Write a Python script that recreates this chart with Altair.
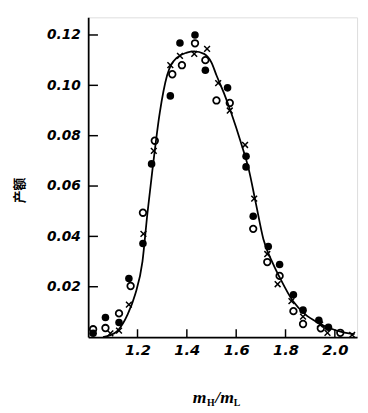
import altair as alt
import pandas as pd

# Filled circles
filled_x = [1.02, 1.07, 1.125, 1.165, 1.222, 1.257, 1.333, 1.372, 1.433, 1.475,
            1.565, 1.64, 1.64, 1.669, 1.73, 1.776, 1.832, 1.871, 1.935, 1.974]
filled_y = [0.0015, 0.0078, 0.0058, 0.0233, 0.0372, 0.0688, 0.0958, 0.1168, 0.1200, 0.1060,
            0.0990, 0.0718, 0.0676, 0.0480, 0.0360, 0.0288, 0.0168, 0.0107, 0.0067, 0.0039]

# Open circles
open_x = [1.02, 1.07, 1.125, 1.172, 1.222, 1.27, 1.341, 1.38, 1.433, 1.475,
          1.52, 1.574, 1.669, 1.726, 1.776, 1.832, 1.871, 1.943, 2.022]
open_y = [0.0031, 0.0036, 0.0094, 0.0203, 0.0494, 0.0780, 0.1044, 0.1080, 0.1167, 0.1100,
          0.0940, 0.0930, 0.0430, 0.0298, 0.0243, 0.0103, 0.0052, 0.0035, 0.0017]

# Crosses
cross_x = [1.09, 1.125, 1.165, 1.224, 1.266, 1.333, 1.372, 1.43, 1.482, 1.527,
           1.574, 1.636, 1.673, 1.726, 1.768, 1.824, 1.871, 1.94, 1.97, 2.07]
cross_y = [0.0015, 0.0026, 0.0129, 0.0410, 0.0740, 0.1080, 0.1117, 0.1125, 0.1145, 0.1009,
           0.0900, 0.0763, 0.0550, 0.0330, 0.0210, 0.0143, 0.0081, 0.0050, 0.0017, 0.0009]

# Smooth fitted curve
curve_x = [1.06, 1.09, 1.12, 1.16, 1.19, 1.22, 1.24, 1.26, 1.29, 1.32, 1.36, 1.40, 1.43,
           1.47, 1.50, 1.52, 1.55, 1.58, 1.62, 1.65, 1.68, 1.71, 1.75, 1.78, 1.83, 1.88,
           1.93, 1.98, 2.03, 2.08]
curve_y = [0.0000, 0.0008, 0.0026, 0.0090, 0.0168, 0.0300, 0.0490, 0.0660, 0.0890, 0.1040,
           0.1110, 0.1130, 0.1135, 0.1125, 0.1090, 0.1040, 0.0970, 0.0890, 0.0770, 0.0670,
           0.0530, 0.0390, 0.0290, 0.0230, 0.0143, 0.0090, 0.0058, 0.0035, 0.0020, 0.0012]

x_ticks = [1.2, 1.4, 1.6, 1.8, 2.0]
y_ticks = [0.02, 0.04, 0.06, 0.08, 0.10, 0.12]

W, H = 275, 327
xs = alt.Scale(domain=[1.0, 2.09], nice=False, zero=False)
ys = alt.Scale(domain=[0, 0.127], nice=False, zero=False)

df_f = pd.DataFrame({"x": filled_x, "y": filled_y})
df_o = pd.DataFrame({"x": open_x, "y": open_y})
df_c = pd.DataFrame({"x": cross_x, "y": cross_y})
df_l = pd.DataFrame({"x": curve_x, "y": curve_y})
df_xt = pd.DataFrame({"t": x_ticks})
df_yt = pd.DataFrame({"t": y_ticks})

lab_font = "DejaVu Sans"

x_axis = alt.Axis(values=x_ticks, format=".1f", tickSize=0, labelFont=lab_font,
                  labelFontSize=15, labelFontStyle="italic", labelFontWeight="bold",
                  labelColor="black", labelPadding=6, domainColor="black", domainWidth=1.8,
                  grid=False, title=None)
y_axis = alt.Axis(values=y_ticks, format=".2f", tickSize=0, labelFont=lab_font,
                  labelFontSize=14, labelFontStyle="italic", labelFontWeight="bold",
                  labelColor="black", labelPadding=8, domainColor="black", domainWidth=1.8,
                  grid=False, title=None)

base_x = alt.X("x:Q", scale=xs, axis=x_axis)
base_y = alt.Y("y:Q", scale=ys, axis=y_axis)

curve = alt.Chart(df_l).mark_line(color="black", strokeWidth=1.8, interpolate="monotone").encode(
    x=base_x, y=base_y)
filled = alt.Chart(df_f).mark_point(shape="circle", filled=True, color="black", size=60, opacity=1).encode(
    x="x:Q", y="y:Q")
opened = alt.Chart(df_o).mark_point(shape="circle", filled=False, color="black", size=45,
                                    strokeWidth=1.8, opacity=1).encode(x="x:Q", y="y:Q")
crosses = alt.Chart(df_c).mark_point(shape="M-1,-1L1,1M-1,1L1,-1", filled=False, color="black",
                                     size=35, strokeWidth=1.5, opacity=1).encode(x="x:Q", y="y:Q")

xt = alt.Chart(df_xt).mark_rule(color="black", strokeWidth=1.5).encode(
    x="t:Q", y=alt.value(H), y2=alt.value(H - 8))
yt = alt.Chart(df_yt).mark_rule(color="black", strokeWidth=1.5).encode(
    y="t:Q", x=alt.value(0), x2=alt.value(10))

one = "datum.t == 1.2"

ytitle = alt.Chart(df_xt).transform_filter(one).mark_text(
    text="产额", font="Noto Sans CJK SC", fontSize=13, fontWeight="bold", angle=270,
    align="center", baseline="middle", color="black").encode(x=alt.value(-70), y=alt.value(177))

tfont = "Liberation Serif"
x0 = 107
ty = 394
t1 = alt.Chart(df_xt).transform_filter(one).mark_text(
    text="m", font=tfont, fontSize=18, fontStyle="italic", fontWeight="bold", align="left",
    baseline="alphabetic", color="black").encode(x=alt.value(x0), y=alt.value(ty))
t2 = alt.Chart(df_xt).transform_filter(one).mark_text(
    text="H", font=tfont, fontSize=10, fontWeight="bold", align="left",
    baseline="alphabetic", color="black").encode(x=alt.value(x0 + 14.5), y=alt.value(ty + 3))
t3 = alt.Chart(df_xt).transform_filter(one).mark_text(
    text="/m", font=tfont, fontSize=18, fontStyle="italic", fontWeight="bold", align="left",
    baseline="alphabetic", color="black").encode(x=alt.value(x0 + 23), y=alt.value(ty))
t4 = alt.Chart(df_xt).transform_filter(one).mark_text(
    text="L", font=tfont, fontSize=10, fontWeight="bold", align="left",
    baseline="alphabetic", color="black").encode(x=alt.value(x0 + 42), y=alt.value(ty + 3))

chart = alt.layer(curve, opened, filled, crosses, xt, yt, ytitle, t1, t2, t3, t4).properties(
    width=W, height=H,
    autosize=alt.AutoSizeParams(type="none"),
    padding={"left": 82, "top": 5, "right": 3, "bottom": 70},
).configure_view(stroke=None).configure(background="white")

chart.save("out.html", embed_options={"renderer": "svg", "actions": False})
